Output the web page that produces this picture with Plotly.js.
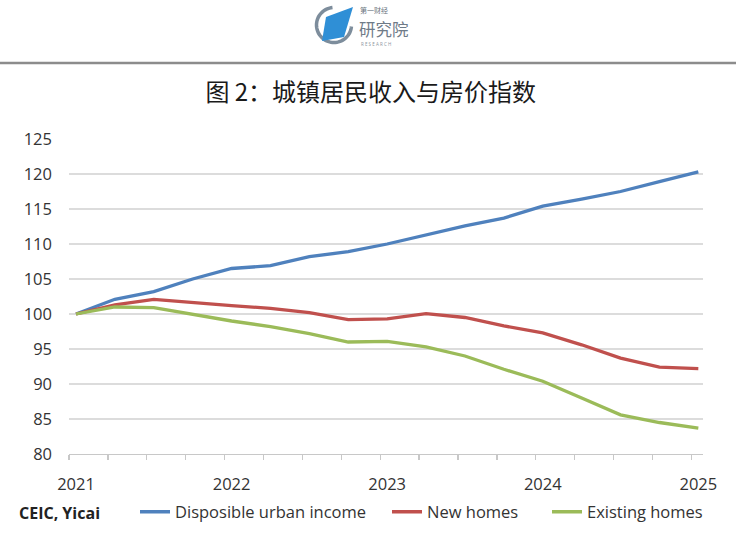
<!DOCTYPE html>
<html>
<head>
<meta charset="utf-8">
<script src="https://cdn.plot.ly/plotly-3.0.1.min.js"></script>
<style>
  html, body { margin: 0; padding: 0; background: #ffffff; }
  #chart { width: 740px; height: 536px; }
</style>
</head>
<body>
<div id="chart"></div>
<script>
// Quarterly periods, 2021Q1 .. 2025Q1
const periods = ["2021Q1","2021Q2","2021Q3","2021Q4","2022Q1","2022Q2","2022Q3","2022Q4",
                 "2023Q1","2023Q2","2023Q3","2023Q4","2024Q1","2024Q2","2024Q3","2024Q4","2025Q1"];
const yearLabels = ["2021","2022","2023","2024","2025"];
const yearPeriods = ["2021Q1","2022Q1","2023Q1","2024Q1","2025Q1"];

const incomeIndex   = [100, 102.1, 103.2, 105.0, 106.5, 106.9, 108.2, 108.9, 110.0, 111.3, 112.6, 113.7, 115.4, 116.4, 117.5, 118.9, 120.3];
const newHomes      = [100, 101.3, 102.1, 101.6, 101.2, 100.8, 100.2, 99.2, 99.3, 100.05, 99.5, 98.3, 97.3, 95.6, 93.7, 92.4, 92.2];
const existingHomes = [100, 101.0, 100.9, 99.9, 99.0, 98.2, 97.2, 96.0, 96.1, 95.3, 94.0, 92.1, 90.4, 88.0, 85.6, 84.5, 83.7];

const seriesNames = ["Disposible urban income", "New homes", "Existing homes"];
const yTicks = [80, 85, 90, 95, 100, 105, 110, 115, 120, 125];

const xIdx = periods.map((p, i) => i);
const yearIdx = yearPeriods.map(p => periods.indexOf(p));

const colors = ["#4f81bd", "#c0504d", "#9bbb59"];
const series = [incomeIndex, newHomes, existingHomes];
const legendIds = ["legend", "legend2", "legend3"];

const traces = series.map((vals, k) => ({
  x: xIdx, y: vals, type: "scatter", mode: "lines", name: seriesNames[k],
  legend: legendIds[k],
  line: { color: colors[k], width: 3.3, shape: "linear" },
  hoverinfo: "skip"
}));

// pixel helpers for decoration placement (plot area: x 69..703, y 139..454)
const PX = v => (v - 69) / 634;
const PY = v => (454 - v) / 315;

function legendAt(textStartPx) {
  return {
    orientation: "h", x: PX(textStartPx - 41), xanchor: "left", y: PY(512), yanchor: "middle",
    font: { size: 16.5, color: "#333333" }, bgcolor: "rgba(0,0,0,0)", borderwidth: 0
  };
}

const ringPath = (function () {
  const cx = 334, cy = 25, r = 17.5, pts = [];
  for (let a = 95; a <= 355; a += 5) {
    const rad = a * Math.PI / 180;
    pts.push([PX(cx + r * Math.cos(rad)), PY(cy - r * Math.sin(rad))]);
  }
  return "M" + pts.map(p => p[0] + "," + p[1]).join(" L");
})();

const paraPath = (function () {
  const pts = [[326, 17], [353, 7], [344, 37], [322, 41]];
  return "M" + pts.map(p => PX(p[0]) + "," + PY(p[1])).join(" L") + " Z";
})();

const layout = {
  width: 740, height: 536,
  margin: { l: 69, r: 37, t: 139, b: 82, pad: 0, autoexpand: false },
  paper_bgcolor: "#ffffff", plot_bgcolor: "#ffffff",
  font: { family: "'Open Sans', 'Liberation Sans', sans-serif", color: "#404040", size: 16 },
  title: {
    text: "图 2：城镇居民收入与房价指数",
    font: { family: "'Noto Sans CJK SC', sans-serif", size: 24, color: "#1a1a1a" },
    x: 0.501, xref: "container", xanchor: "center",
    y: 1 - 93 / 536, yref: "container", yanchor: "middle"
  },
  xaxis: {
    type: "linear", range: [-0.18, 16.12],
    tickmode: "array", tickvals: yearIdx, ticktext: yearLabels,
    ticks: "", showgrid: false, zeroline: false,
    showline: true, linecolor: "#c8c8c8", linewidth: 1.3,
    ticklabelstandoff: 15,
    tickfont: { size: 16.5, color: "#333333" },
    minor: { tickmode: "linear", tick0: -0.18, dtick: 1, ticks: "outside", ticklen: 5, tickcolor: "#c8c8c8", tickwidth: 1.3, showgrid: false },
    fixedrange: true
  },
  yaxis: {
    range: [80, 125], tickmode: "array", tickvals: yTicks,
    ticks: "", showline: false, zeroline: false,
    showgrid: true, gridcolor: "#dcdcdc", gridwidth: 1.2,
    ticklabelstandoff: 16,
    tickfont: { size: 16.5, color: "#333333" },
    fixedrange: true
  },
  showlegend: true,
  legend: legendAt(176),
  legend2: legendAt(428),
  legend3: legendAt(588),
  annotations: [
    { text: "<b>CEIC, Yicai</b>", xref: "paper", yref: "paper",
      x: PX(17), xanchor: "left", y: PY(513), yanchor: "middle",
      showarrow: false, font: { size: 16, color: "#222222", family: "'Open Sans', sans-serif" } },
    // logo text
    { text: "第一财经", xref: "paper", yref: "paper", x: PX(359), xanchor: "left",
      y: PY(10.5), yanchor: "middle", showarrow: false, borderpad: 0,
      font: { size: 7, color: "#6a7580", family: "'Noto Sans CJK SC', sans-serif" } },
    { text: "研究院", xref: "paper", yref: "paper", x: PX(358), xanchor: "left",
      y: PY(29.5), yanchor: "middle", showarrow: false, borderpad: 0,
      font: { size: 16.5, color: "#6f7b88", family: "'Noto Sans CJK SC', sans-serif" } },
    { text: "R E S E A R C H", xref: "paper", yref: "paper", x: PX(360), xanchor: "left",
      y: PY(44), yanchor: "middle", showarrow: false, borderpad: 0,
      font: { size: 4.5, color: "#8a939c", family: "'Open Sans', sans-serif" } }
  ],
  shapes: [
    // header separator line
    { type: "line", xref: "paper", yref: "paper",
      x0: PX(0), x1: PX(736), y0: PY(63), y1: PY(63),
      line: { color: "#8c8c8c", width: 2.5 } },
    // logo ring
    { type: "path", xref: "paper", yref: "paper", path: ringPath,
      line: { color: "#7d8d9c", width: 3.5 } },
    // logo parallelogram
    { type: "path", xref: "paper", yref: "paper", path: paraPath,
      fillcolor: "#2f8fd6", line: { width: 0 } }
  ]
};

Plotly.newPlot("chart", traces, layout, { staticPlot: true, displayModeBar: false });
</script>
</body>
</html>
